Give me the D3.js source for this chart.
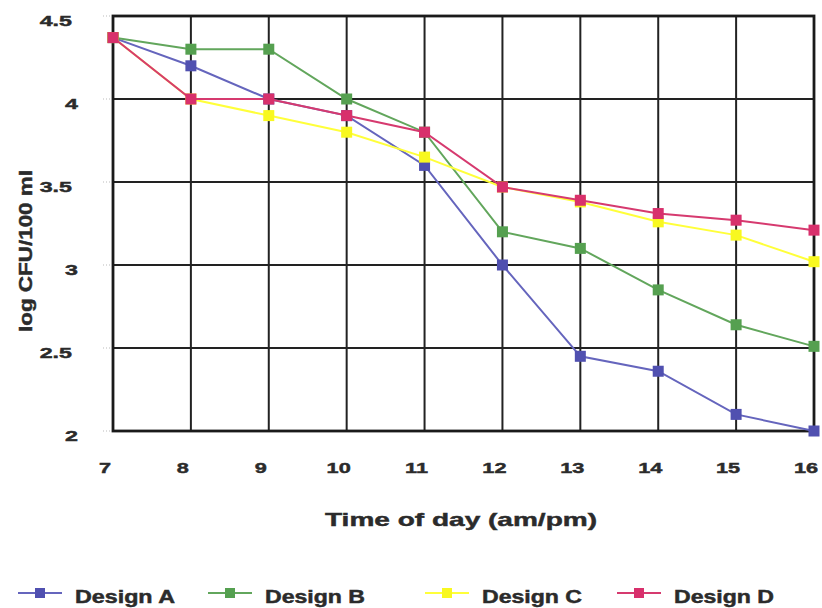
<!DOCTYPE html>
<html>
<head>
<meta charset="utf-8">
<script src="https://cdn.jsdelivr.net/npm/d3@7"></script>
<style>
  html, body { margin: 0; padding: 0; background: #fff; }
  text { font-family: "Liberation Sans", Arial, sans-serif; font-weight: bold; fill: #2b2b2b; stroke: #2b2b2b; stroke-width: 0.45; }
</style>
</head>
<body>
<svg id="chart" width="822" height="608"></svg>
<script>
const hours = [7, 8, 9, 10, 11, 12, 13, 14, 15, 16];
const designA = [4.37, 4.2, 4.0, 3.9, 3.6, 3.0, 2.45, 2.36, 2.1, 2.0];
const designB = [4.37, 4.3, 4.3, 4.0, 3.8, 3.2, 3.1, 2.85, 2.64, 2.51];
const designC = [4.37, 4.0, 3.9, 3.8, 3.65, 3.47, 3.38, 3.26, 3.18, 3.02];
const designD = [4.37, 4.0, 4.0, 3.9, 3.8, 3.47, 3.39, 3.31, 3.27, 3.21];
const seriesNames = ["Design A", "Design B", "Design C", "Design D"];
const yTicks = [2, 2.5, 3, 3.5, 4, 4.5];
const xLabel = "Time of day (am/pm)";
const yLabel = "log CFU/100 ml";

const seriesValues = [designA, designB, designC, designD];
const lineColors = ["#6565bd", "#62a65c", "#ffff3a", "#d63a6f"];
const markColors = ["#5050b0", "#55a050", "#f8f820", "#d8306c"];

const svg = d3.select("#chart");
const pL = 113, pR = 814, pT = 16, pB = 431;

const x = d3.scaleLinear().domain([7, 16]).range([pL, pR]);
const y = d3.scaleLinear().domain([2, 4.5]).range([pB, pT]);

function stretch(sel, k) {
  sel.each(function () {
    const w = this.getComputedTextLength();
    d3.select(this).attr("textLength", w * k).attr("lengthAdjust", "spacingAndGlyphs");
  });
}

// grid
const g = svg.append("g");
g.selectAll("line.v").data(hours).join("line")
  .attr("x1", d => x(d)).attr("x2", d => x(d))
  .attr("y1", pT).attr("y2", pB)
  .attr("stroke", "#222").attr("stroke-width", 2);
g.selectAll("line.h").data(yTicks).join("line")
  .attr("x1", pL).attr("x2", pR)
  .attr("y1", d => y(d)).attr("y2", d => y(d))
  .attr("stroke", "#222").attr("stroke-width", 2);
// frame
g.append("rect").attr("x", pL).attr("y", pT)
  .attr("width", pR - pL).attr("height", pB - pT)
  .attr("fill", "none").attr("stroke", "#1a1a1a").attr("stroke-width", 2.8);

// faint dotted ticks on y axis
svg.append("g").selectAll("line").data(yTicks).join("line")
  .attr("x1", pL - 10).attr("x2", pL - 2)
  .attr("y1", d => y(d)).attr("y2", d => y(d))
  .attr("stroke", "#bbb").attr("stroke-width", 1).attr("stroke-dasharray", "1,2");

// y tick labels
const yt = svg.append("g").selectAll("text").data(yTicks).join("text")
  .attr("x", d => Number.isInteger(d) ? 78 : 72)
  .attr("y", d => y(d) + 6)
  .attr("text-anchor", "end")
  .attr("dominant-baseline", "middle")
  .attr("font-size", 15.5)
  .text(d => d);
stretch(yt, 1.5);

// x tick labels
const xt = svg.append("g").selectAll("text").data(hours).join("text")
  .attr("x", d => x(d) - 8)
  .attr("y", 469)
  .attr("text-anchor", "middle")
  .attr("dominant-baseline", "middle")
  .attr("font-size", 15.5)
  .text(d => d);
stretch(xt, 1.4);

// axis titles
svg.append("text")
  .attr("x", 461).attr("y", 521)
  .attr("text-anchor", "middle").attr("dominant-baseline", "middle")
  .attr("font-size", 19).text(xLabel)
  .attr("textLength", 272).attr("lengthAdjust", "spacingAndGlyphs");

svg.append("text")
  .attr("transform", "translate(27,251) rotate(-90)")
  .attr("text-anchor", "middle").attr("dominant-baseline", "middle")
  .attr("font-size", 18.5).text(yLabel)
  .attr("textLength", 162).attr("lengthAdjust", "spacingAndGlyphs");

// series
const line = d3.line().x((d, i) => x(hours[i])).y(d => y(d));
const ms = 11;
seriesValues.forEach((vals, si) => {
  const sg = svg.append("g");
  sg.append("path").datum(vals)
    .attr("d", line)
    .attr("fill", "none")
    .attr("stroke", lineColors[si])
    .attr("stroke-width", 2);
  sg.selectAll("rect").data(vals).join("rect")
    .attr("x", (d, i) => x(hours[i]) - ms / 2)
    .attr("y", d => y(d) - ms / 2)
    .attr("width", ms).attr("height", ms)
    .attr("fill", markColors[si]);
});

// legend
const legendX = [18, 208, 425, 617];
const leg = svg.append("g");
seriesNames.forEach((name, si) => {
  const lx = legendX[si], ly = 593;
  leg.append("line").attr("x1", lx).attr("x2", lx + 44)
    .attr("y1", ly).attr("y2", ly)
    .attr("stroke", lineColors[si]).attr("stroke-width", 2);
  leg.append("rect").attr("x", lx + 22 - 5).attr("y", ly - 5)
    .attr("width", 10).attr("height", 10).attr("fill", markColors[si]);
  leg.append("text").attr("x", lx + 57).attr("y", ly + 5)
    .attr("dominant-baseline", "middle")
    .attr("font-size", 17.5).text(name)
    .attr("textLength", 100).attr("lengthAdjust", "spacingAndGlyphs");
});
</script>
</body>
</html>
